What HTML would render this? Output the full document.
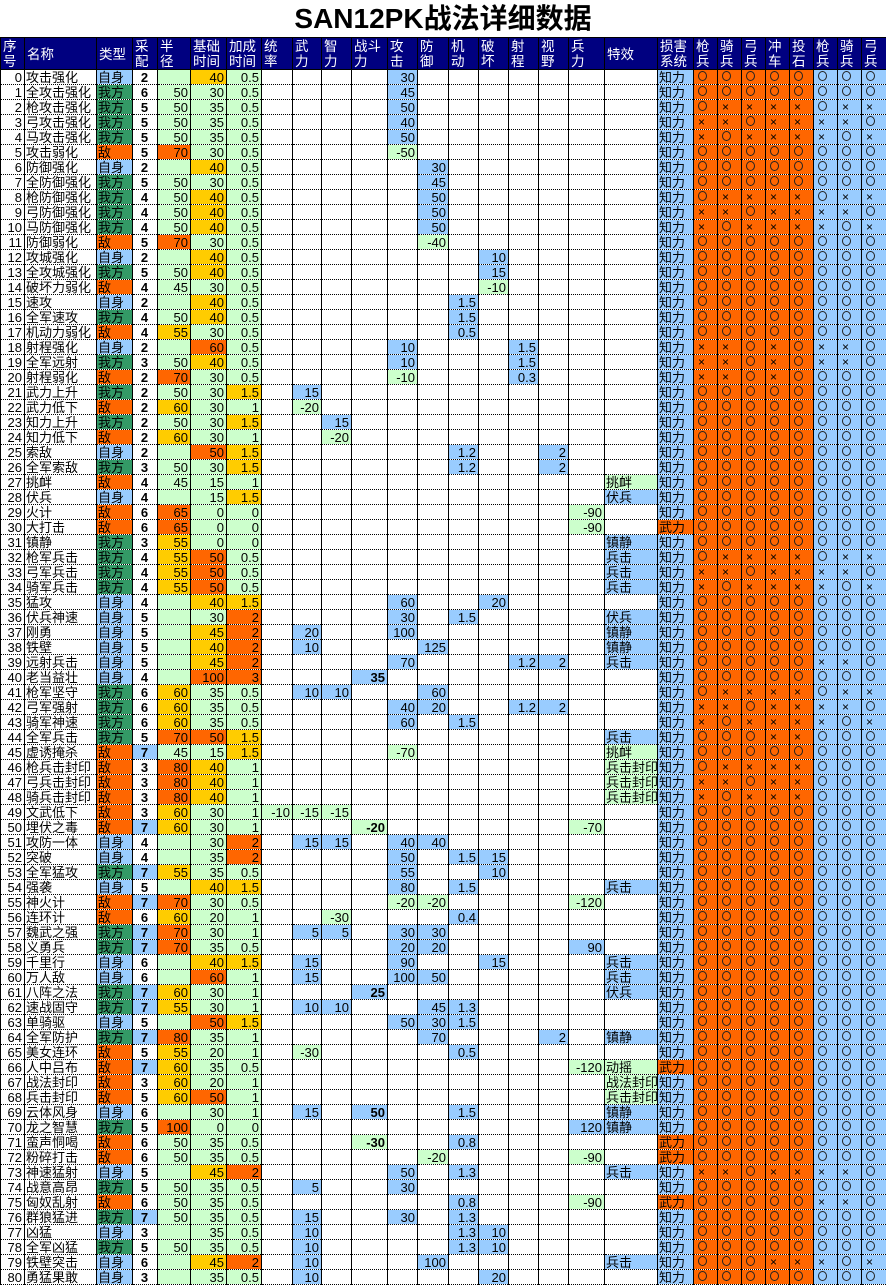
<!DOCTYPE html>
<html><head><meta charset="utf-8">
<style>
html,body{margin:0;padding:0;background:#fff;}
body{width:886px;height:1283px;overflow:hidden;position:relative;font-family:"Liberation Sans","Noto Sans CJK SC",sans-serif;}
#title{position:absolute;left:0;top:0;width:886px;height:37px;text-align:center;font-weight:bold;font-size:28px;line-height:38px;color:#000;}
table{position:absolute;left:0;top:37px;border-collapse:collapse;table-layout:fixed;width:886px;}
td{padding:0 2px 0 1px;font-size:13px;line-height:13px;height:14px;white-space:nowrap;overflow:hidden;border-left:1px solid #000;border-right:1px solid #000;border-bottom:1px dotted #000;text-align:right;color:#000;}
tr.h td{background:#000080;color:#fff;text-align:left;vertical-align:top;height:29px;line-height:15px;border:1px solid #000;padding:1px 1px 0 2px;font-size:13.5px;}
td.l{text-align:left;}
td.c{text-align:center;font-weight:bold;}
td.bd{font-weight:bold;}
.b{background:#99CCFF;}
.g{background:#CCFFCC;}
.y{background:#FFCC00;}
.o{background:#FF6600;}
.d{background:#339966;}
td.s{text-align:left;padding-left:4px;font-size:12px;}
td.ox{background:#FF6600;}
td.bx{background:#99CCFF;}
i.c{display:inline-block;width:9px;height:10px;border:1px solid #222;border-radius:50%;box-sizing:border-box;vertical-align:middle;margin-top:-2px;}
</style></head><body>
<div id="title">SAN12PK战法详细数据</div>
<table id="t">
<colgroup>
<col style="width:24px"><col style="width:72px"><col style="width:36px"><col style="width:25px"><col style="width:33px"><col style="width:36px"><col style="width:35px">
<col style="width:31px"><col style="width:29px"><col style="width:30px"><col style="width:36px"><col style="width:30px"><col style="width:31px"><col style="width:30px"><col style="width:30px"><col style="width:30px"><col style="width:30px"><col style="width:36px">
<col style="width:53px"><col style="width:36px">
<col style="width:24px"><col style="width:24px"><col style="width:24px"><col style="width:24px"><col style="width:24px"><col style="width:24px"><col style="width:24px"><col style="width:25px">
</colgroup>
<tr class="h"><td>序<br>号</td><td style="vertical-align:middle">名称</td><td style="vertical-align:middle">类型</td><td>采<br>配</td><td>半<br>径</td><td>基础<br>时间</td><td>加成<br>时间</td><td>统<br>率</td><td>武<br>力</td><td>智<br>力</td><td>战斗<br>力</td><td>攻<br>击</td><td>防<br>御</td><td>机<br>动</td><td>破<br>坏</td><td>射<br>程</td><td>视<br>野</td><td>兵<br>力</td><td style="vertical-align:middle">特效</td><td>损害<br>系统</td><td>枪<br>兵</td><td>骑<br>兵</td><td>弓<br>兵</td><td>冲<br>车</td><td>投<br>石</td><td>枪<br>兵</td><td>骑<br>兵</td><td>弓<br>兵</td></tr>
</table>
<script>
var P={A:"OOOOOOOO",B:"OXXXXOXX",C:"XXOXXXXO",D:"XOXXXXOX",E:"XXOXOXXO",F:"XXOXOOOO",G:"OOOOOXXO",H:"OOOXXOOO",I:"OXXXXOOO",J:"XXOXXOOO",K:"XOXXXOOO",L:"OOOXXXOX"};
var FX={"挑衅":"g","伏兵":"b","镇静":"b","兵击":"b","兵击封印":"g","动摇":"g","战法封印":"g"};
var K="twzfadmpsvh";
var R=[
"攻击强化|S|2||40|0.5|a30|||A",
"全攻击强化|W|6|50|30|0.5|a45|||A",
"枪攻击强化|W|5|50|35|0.5|a50|||B",
"弓攻击强化|W|5|50|35|0.5|a40|||C",
"马攻击强化|W|5|50|35|0.5|a50|||D",
"攻击弱化|E|5|70|30|0.5|a-50|||A",
"防御强化|S|2||40|0.5|d30|||A",
"全防御强化|W|5|50|30|0.5|d45|||A",
"枪防御强化|W|4|50|40|0.5|d50|||B",
"弓防御强化|W|4|50|40|0.5|d50|||C",
"马防御强化|W|4|50|40|0.5|d50|||D",
"防御弱化|E|5|70|30|0.5|d-40|||A",
"攻城强化|S|2||40|0.5|p10|||A",
"全攻城强化|W|5|50|40|0.5|p15|||A",
"破坏力弱化|E|4|45|30|0.5|p-10|||A",
"速攻|S|2||40|0.5|m1.5|||A",
"全军速攻|W|4|50|40|0.5|m1.5|||A",
"机动力弱化|E|4|55|30|0.5|m0.5|||A",
"射程强化|S|2||60|0.5|a10 s1.5|||E",
"全军远射|W|3|50|40|0.5|a10 s1.5|||E",
"射程弱化|E|2|70|30|0.5|a-10 s0.3|||F",
"武力上升|W|2|50|30|1.5|w15|||A",
"武力低下|E|2|60|30|1|w-20|||A",
"知力上升|W|2|50|30|1.5|z15|||A",
"知力低下|E|2|60|30|1|z-20|||A",
"索敌|S|2||50|1.5|m1.2 v2|||A",
"全军索敌|W|3|50|30|1.5|m1.2 v2|||A",
"挑衅|E|4|45|15|1||挑衅||A",
"伏兵|S|4||15|1.5||伏兵||A",
"火计|E|6|65|0|0|h-90|||A",
"大打击|E|6|65|0|0|h-90||武力|A",
"镇静|W|3|55|0|0||镇静||A",
"枪军兵击|W|4|55|50|0.5||兵击||B",
"弓军兵击|W|4|55|50|0.5||兵击||C",
"骑军兵击|W|4|55|50|0.5||兵击||D",
"猛攻|S|4||40|1.5|a60 p20|||A",
"伏兵神速|S|5||30|2|a30 m1.5|伏兵||A",
"刚勇|S|5||45|2|w20 a100|镇静||A",
"铁壁|S|5||40|2|w10 d125|镇静||A",
"远射兵击|S|5||45|2|a70 s1.2 v2|兵击||G",
"老当益壮|S|4||100|3|f35|||A",
"枪军坚守|W|6|60|35|0.5|w10 z10 d60|||B",
"弓军强射|W|6|60|35|0.5|a40 d20 s1.2 v2|||C",
"骑军神速|W|6|60|35|0.5|a60 m1.5|||D",
"全军兵击|W|5|70|50|1.5||兵击||H",
"虚诱掩杀|E|7|45|15|1.5|a-70|挑衅||A",
"枪兵击封印|E|3|80|40|1||兵击封印||I",
"弓兵击封印|E|3|80|40|1||兵击封印||J",
"骑兵击封印|E|3|80|40|1||兵击封印||K",
"文武低下|E|3|60|30|1|t-10 w-15 z-15|||A",
"埋伏之毒|E|7|60|30|1|f-20 h-70|||A",
"攻防一体|S|4||30|2|w15 z15 a40 d40|||A",
"突破|S|4||35|2|a50 m1.5 p15|||A",
"全军猛攻|W|7|55|35|0.5|a55 p10|||A",
"强袭|S|5||40|1.5|a80 m1.5|兵击||A",
"神火计|E|7|70|30|0.5|a-20 d-20 h-120|||A",
"连环计|E|6|60|20|1|z-30 m0.4|||A",
"魏武之强|W|7|70|30|1|w5 z5 a30 d30|||A",
"义勇兵|W|7|70|35|0.5|a20 d20 h90|||A",
"千里行|S|6||40|1.5|w15 a90 p15|兵击||A",
"万人敌|S|6||60|1|w15 a100 d50|兵击||A",
"八阵之法|W|7|60|30|1|f25|伏兵||A",
"速战固守|W|7|55|30|1|w10 z10 d45 m1.3|||A",
"单骑驱|S|5||50|1.5|a50 d30 m1.5|||A",
"全军防护|W|7|80|35|1|d70 v2|镇静||A",
"美女连环|E|5|55|20|1|w-30 m0.5|||A",
"人中吕布|E|7|60|35|0.5|h-120|动摇|武力|A",
"战法封印|E|3|60|20|1||战法封印||A",
"兵击封印|E|5|60|50|1||兵击封印||A",
"云体风身|S|6||30|1|w15 f50 m1.5|镇静||A",
"龙之智慧|W|5|100|0|0|h120|镇静||A",
"蛮声恫喝|E|6|50|35|0.5|f-30 m0.8||武力|A",
"粉碎打击|E|6|50|35|0.5|d-20 h-90||武力|A",
"神速猛射|S|5||45|2|a50 m1.3|兵击||C",
"战意高昂|W|5|50|35|0.5|w5 a30|||A",
"匈奴乱射|E|6|50|35|0.5|m0.8 h-90||武力|G",
"群狼猛进|W|7|50|35|0.5|w15 a30 m1.3|||A",
"凶猛|S|3||35|0.5|w10 m1.3 p10|||A",
"全军凶猛|W|5|50|35|0.5|w10 m1.3 p10|||A",
"铁壁突击|S|6||45|2|w10 d100|兵击||L",
"勇猛果敢|S|3||35|0.5|w10 p20|||A"
];
var T={S:["自身","b"],W:["我方","d"],E:["敌","o"]};
var h="";
R.forEach(function(s,i){
 var f=s.split("|");
 var r="<tr><td>"+i+"</td><td class='l'>"+f[0]+"</td>";
 var t=T[f[1]]; r+="<td class='l "+t[1]+"'>"+t[0]+"</td>";
 r+="<td class='c"+(f[2]=="7"?" b":"")+"'>"+f[2]+"</td>";
 var rc=({"55":"y","60":"y","65":"o","70":"o","80":"o","100":"o"})[f[3]]||"g";
 r+="<td class='"+rc+"'>"+f[3]+"</td>";
 var bc=({"40":"y","45":"y","50":"o","60":"o","100":"o"})[f[4]]||"g";
 r+="<td class='"+bc+"'>"+f[4]+"</td>";
 var ac=({"1.5":"y","2":"o","3":"o"})[f[5]]||"g";
 r+="<td class='"+ac+"'>"+f[5]+"</td>";
 var st={}; if(f[6]) f[6].split(" ").forEach(function(x){st[x[0]]=x.slice(1);});
 for(var k=0;k<11;k++){var key=K[k],v=st[key];
  if(v===undefined){r+="<td></td>";}
  else{var c=v[0]=="-"?"g":"b"; if(key=="f")c+=" bd"; r+="<td class='"+c+"'>"+v+"</td>";}
 }
 r+="<td class='l "+(f[7]?FX[f[7]]:"")+"'>"+f[7]+"</td>";
 var sys=f[8]||"知力"; r+="<td class='l "+(sys=="武力"?"o":"b")+"'>"+sys+"</td>";
 var p=P[f[9]];
 for(var j=0;j<8;j++){r+="<td class='s "+(j<5?"ox":"bx")+"'>"+(p[j]=="O"?"<i class='c'></i>":"×")+"</td>";}
 h+=r+"</tr>";
});
document.getElementById("t").insertAdjacentHTML("beforeend",h);
</script>
</body></html>
